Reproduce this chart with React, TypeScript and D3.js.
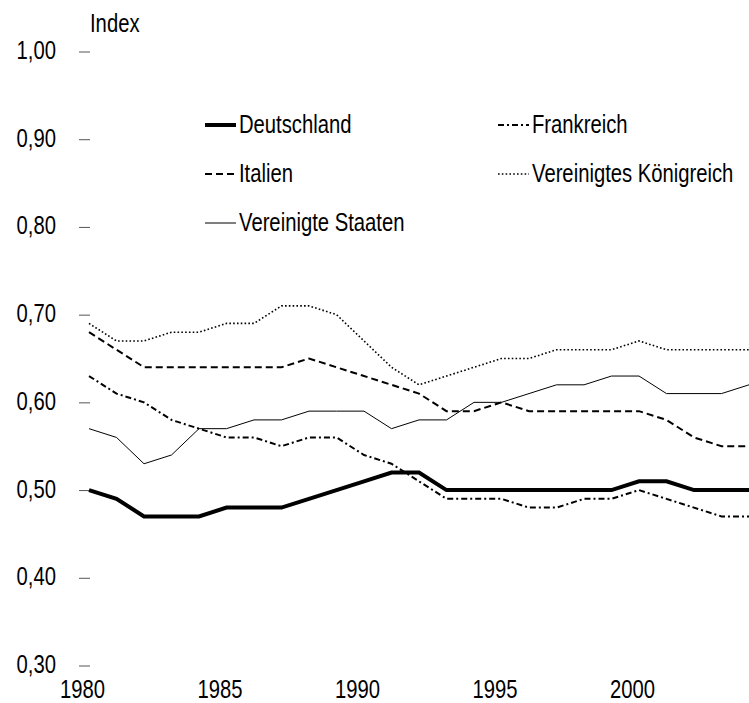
import React, { useEffect, useRef } from 'react';
import * as d3 from 'd3';

const years = [1980, 1981, 1982, 1983, 1984, 1985, 1986, 1987, 1988, 1989, 1990, 1991, 1992,
  1993, 1994, 1995, 1996, 1997, 1998, 1999, 2000, 2001, 2002, 2003, 2004];
const yearLabels = [1980, 1985, 1990, 1995, 2000];
const yTicks = [0.3, 0.4, 0.5, 0.6, 0.7, 0.8, 0.9, 1.0];

const deutschland = [0.50, 0.49, 0.47, 0.47, 0.47, 0.48, 0.48, 0.48, 0.49, 0.50, 0.51, 0.52, 0.52,
  0.50, 0.50, 0.50, 0.50, 0.50, 0.50, 0.50, 0.51, 0.51, 0.50, 0.50, 0.50];
const frankreich = [0.63, 0.61, 0.60, 0.58, 0.57, 0.56, 0.56, 0.55, 0.56, 0.56, 0.54, 0.53, 0.51,
  0.49, 0.49, 0.49, 0.48, 0.48, 0.49, 0.49, 0.50, 0.49, 0.48, 0.47, 0.47];
const italien = [0.68, 0.66, 0.64, 0.64, 0.64, 0.64, 0.64, 0.64, 0.65, 0.64, 0.63, 0.62, 0.61,
  0.59, 0.59, 0.60, 0.59, 0.59, 0.59, 0.59, 0.59, 0.58, 0.56, 0.55, 0.55];
const koenigreich = [0.69, 0.67, 0.67, 0.68, 0.68, 0.69, 0.69, 0.71, 0.71, 0.70, 0.67, 0.64, 0.62,
  0.63, 0.64, 0.65, 0.65, 0.66, 0.66, 0.66, 0.67, 0.66, 0.66, 0.66, 0.66];
const staaten = [0.57, 0.56, 0.53, 0.54, 0.57, 0.57, 0.58, 0.58, 0.59, 0.59, 0.59, 0.57, 0.58,
  0.58, 0.60, 0.60, 0.61, 0.62, 0.62, 0.63, 0.63, 0.61, 0.61, 0.61, 0.62];

const series = [
  { name: 'Deutschland', values: deutschland, width: 4, dash: null },
  { name: 'Frankreich', values: frankreich, width: 2, dash: '6,3,2,3' },
  { name: 'Italien', values: italien, width: 2, dash: '7,4' },
  { name: 'Vereinigtes Königreich', values: koenigreich, width: 1.6, dash: '1.6,2.2' },
  { name: 'Vereinigte Staaten', values: staaten, width: 1, dash: null },
];

// no narrow font installed, so squeeze Liberation Sans horizontally
const FONT = "'Liberation Sans', Arial, sans-serif";
const FONT_SIZE = 25;
const SX = 0.81;

function squeeze(sel) {
  sel.each(function () {
    const t = d3.select(this);
    const tx = +t.attr('x') || 0;
    const ty = +t.attr('y') || 0;
    t.attr('x', 0)
      .attr('y', 0)
      .attr('transform', `translate(${tx},${ty}) scale(${SX},1)`)
      .attr('font-family', FONT)
      .attr('font-size', FONT_SIZE)
      .attr('fill', '#000');
  });
}

const App = () => {
  const ref = useRef(null);

  useEffect(() => {
    if (!ref.current) return;
    const width = 749;
    const height = 703;

    const svg = d3.select(ref.current)
      .attr('width', width)
      .attr('height', height);
    svg.selectAll('*').remove();

    const x = d3.scaleLinear().domain([1980, 2004]).range([89, 749]);
    const y = d3.scaleLinear().domain([0.3, 1.0]).range([665.5, 51.5]);

    // y axis: short grey ticks, no domain line
    const yAxis = svg.append('g')
      .attr('transform', 'translate(90,0)')
      .call(d3.axisLeft(y)
        .tickValues(yTicks)
        .tickSizeInner(11)
        .tickSizeOuter(0)
        .tickPadding(23)
        .tickFormat(d => d3.format('.2f')(d).replace('.', ',')));
    yAxis.select('.domain').remove();
    yAxis.selectAll('line').attr('stroke', '#555');
    yAxis.selectAll('text').attr('dy', '0.28em');
    squeeze(yAxis.selectAll('text'));

    squeeze(svg.append('text')
      .attr('x', 90)
      .attr('y', 32)
      .text('Index'));

    // x axis labels only
    const xAxis = svg.append('g')
      .attr('transform', 'translate(0,698)')
      .call(d3.axisBottom(x)
        .tickValues(yearLabels)
        .tickSize(0)
        .tickFormat(d3.format('d')));
    xAxis.select('.domain').remove();
    xAxis.selectAll('text')
      .attr('y', 0)
      .attr('dy', 0)
      .attr('x', -7);
    squeeze(xAxis.selectAll('text'));

    const line = d3.line()
      .x((d, i) => x(years[i]))
      .y(d => y(d));

    series.forEach(s => {
      svg.append('path')
        .datum(s.values)
        .attr('d', line)
        .attr('fill', 'none')
        .attr('stroke', '#000')
        .attr('stroke-width', s.width)
        .attr('stroke-dasharray', s.dash)
        .attr('stroke-linejoin', 'miter');
    });

    // Legend
    const legendPos = [
      { x: 205, y: 125 },
      { x: 498, y: 125 },
      { x: 205, y: 174 },
      { x: 498, y: 174 },
      { x: 205, y: 223 },
    ];
    const legend = svg.selectAll('.legend')
      .data(series)
      .enter().append('g')
        .attr('class', 'legend')
        .attr('transform', (d, i) => `translate(${legendPos[i].x}, ${legendPos[i].y})`);

    legend.append('line')
      .attr('x1', 0)
      .attr('x2', 31)
      .attr('y1', 0)
      .attr('y2', 0)
      .attr('stroke', '#000')
      .attr('stroke-width', d => d.width)
      .attr('stroke-dasharray', d => d.dash);

    squeeze(legend.append('text')
      .attr('x', 34)
      .attr('y', 8)
      .text(d => d.name));
  }, []);

  return (
    <svg
      ref={ref}
      style={{ position: 'absolute', left: 0, top: 0, background: '#fff' }}
    />
  );
};

export default App;
